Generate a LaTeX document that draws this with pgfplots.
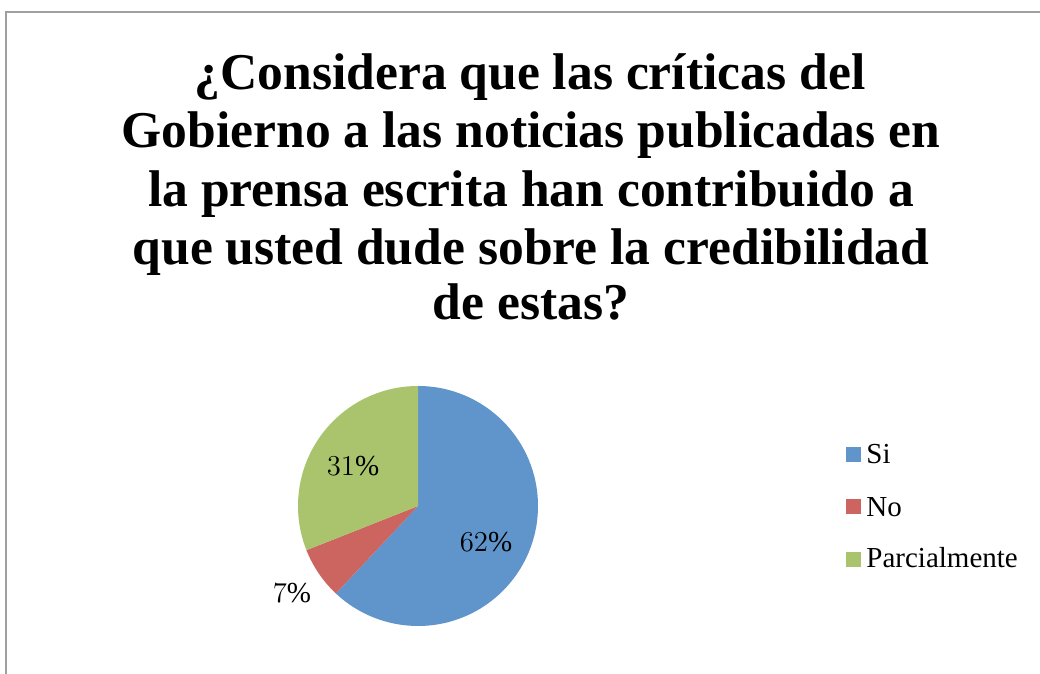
\documentclass[border=0pt]{standalone}
\usepackage{pgfplots}
\pgfplotsset{compat=1.18}
\usepackage{pgfplotstable}
\usepackage{fontspec}
\setmainfont{Liberation Serif}
\newfontfamily\titlefont{Liberation Serif}
\definecolor{csi}{HTML}{5F95CB}
\definecolor{cno}{HTML}{CC655F}
\definecolor{cpa}{HTML}{A9C46D}
\definecolor{cframe}{HTML}{A0A0A0}

\pgfplotstableread{
label value
Si 62
No 7
Parcialmente 31
}\piedata
\pgfplotstablegetelem{0}{value}\of\piedata \let\vSi\pgfplotsretval
\pgfplotstablegetelem{1}{value}\of\piedata \let\vNo\pgfplotsretval
\pgfplotstablegetelem{2}{value}\of\piedata \let\vPa\pgfplotsretval
\pgfmathsetmacro{\aSi}{3.6*\vSi}
\pgfmathsetmacro{\aNo}{3.6*\vNo}
\pgfmathsetmacro{\aPa}{3.6*\vPa}
\pgfmathsetmacro{\sNo}{90-\aSi}
\pgfmathsetmacro{\sPa}{90-\aSi-\aNo}

\begin{document}
\begin{tikzpicture}
\useasboundingbox (0,0) rectangle (520pt,337pt);
\begin{axis}[
  at={(0,0)}, anchor=south west,
  scale only axis, width=520pt, height=337pt,
  xmin=0, xmax=1040, ymin=-674, ymax=0,
  hide axis, clip=false,
]
% frame
\draw[cframe, line width=0.75pt] (axis cs:6,-680) -- (axis cs:6,-12) -- (axis cs:1045,-12);
% title
\begin{scope}[every node/.style={anchor=base, font=\titlefont\bfseries\fontsize{25.8}{30}\selectfont, inner sep=0pt}]
\node at (axis cs:530,-90) {¿Considera que las críticas del};
\node at (axis cs:531,-148) {Gobierno a las noticias publicadas en};
\node at (axis cs:531,-207) {la prensa escrita han contribuido a};
\node at (axis cs:531,-265) {que usted dude sobre la credibilidad};
\node at (axis cs:531,-320) {de estas?};
\end{scope}
% pie
\fill[csi] (axis cs:418,-506) -- ++(90:60pt) arc[start angle=90, delta angle=-\aSi, radius=60pt] -- cycle;
\fill[cno] (axis cs:418,-506) -- ++(\sNo:60pt) arc[start angle=\sNo, delta angle=-\aNo, radius=60pt] -- cycle;
\fill[cpa] (axis cs:418,-506) -- ++(\sPa:60pt) arc[start angle=\sPa, delta angle=-\aPa, radius=60pt] -- cycle;
% labels
\begin{scope}[every node/.style={anchor=base, font=\fontsize{14.5}{16}\selectfont, inner sep=0pt}]
\node at (axis cs:486,-552) {\pgfmathprintnumber{\vSi}\%};
\node at (axis cs:353,-476) {\pgfmathprintnumber{\vPa}\%};
\node at (axis cs:292,-603) {\pgfmathprintnumber{\vNo}\%};
\end{scope}
% legend
\fill[csi] (axis cs:846,-447) rectangle (axis cs:861,-462);
\fill[cno] (axis cs:846,-499) rectangle (axis cs:861,-514);
\fill[cpa] (axis cs:846,-552) rectangle (axis cs:861,-567);
\begin{scope}[every node/.style={anchor=base west, font=\fontsize{14.5}{16}\selectfont, inner sep=0pt}]
\node at (axis cs:866,-464) {Si};
\node at (axis cs:866,-517) {No};
\node at (axis cs:866,-568) {Parcialmente};
\end{scope}
\end{axis}
\end{tikzpicture}
\end{document}
